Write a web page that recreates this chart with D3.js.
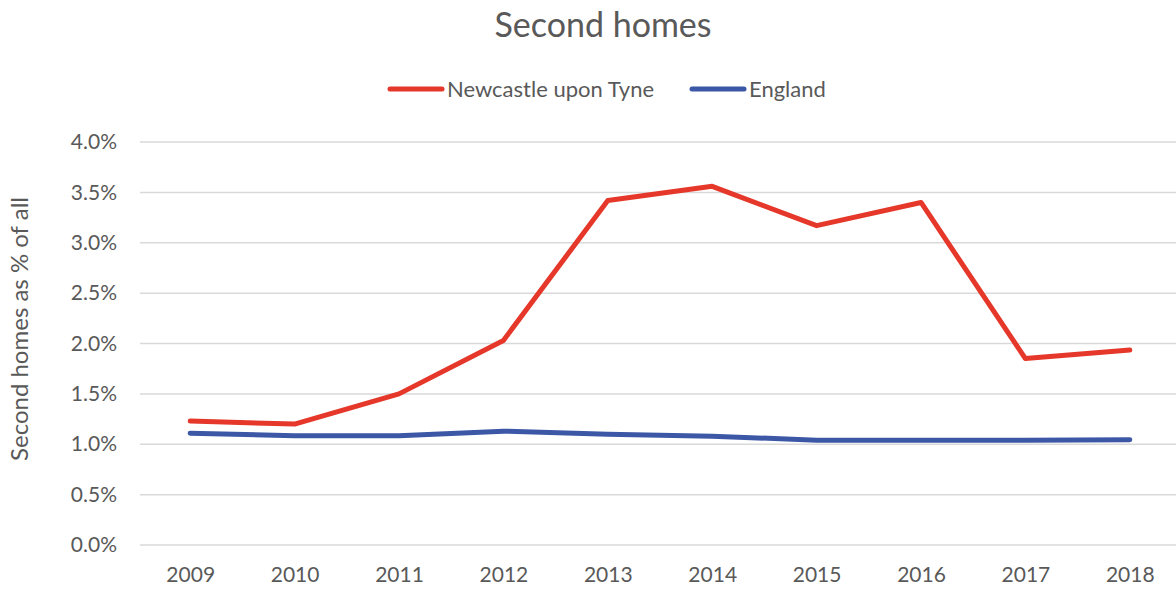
<!DOCTYPE html>
<html>
<head>
<meta charset="utf-8">
<script src="https://cdn.jsdelivr.net/npm/d3@7"></script>
<style>
  body { margin: 0; background: #fff; }
  text { font-family: Lato, "Open Sans", sans-serif; fill: #595959; }
</style>
</head>
<body>
<div id="chart"></div>
<script>
var years = ["2009", "2010", "2011", "2012", "2013", "2014", "2015", "2016", "2017", "2018"];
var newcastle = [1.23, 1.20, 1.50, 2.03, 3.42, 3.56, 3.17, 3.40, 1.85, 1.935];
var england = [1.11, 1.085, 1.085, 1.13, 1.10, 1.08, 1.04, 1.04, 1.04, 1.045];
var yTicks = [0, 0.5, 1, 1.5, 2, 2.5, 3, 3.5, 4];

var seriesNames = ["Newcastle upon Tyne", "England"];
var seriesColors = ["#E5382A", "#3B57A6"];

var svgWidth = 1176;
var svgHeight = 590;

var svg = d3.select("#chart")
  .append("svg")
  .attr("width", svgWidth)
  .attr("height", svgHeight);

// scales
var x = d3.scalePoint()
  .domain(years)
  .range([138, 1182])
  .padding(0.5);

var y = d3.scaleLinear()
  .domain([0, 4])
  .range([545, 142]);

// gridlines
svg.append("g")
  .selectAll("line")
  .data(yTicks)
  .enter()
  .append("line")
  .attr("x1", 140)
  .attr("x2", 1176)
  .attr("y1", d => y(d))
  .attr("y2", d => y(d))
  .attr("stroke", "#D9D9D9")
  .attr("stroke-width", 1.5);

// y axis labels
var leftAxis = d3.axisLeft(y)
  .tickValues(yTicks)
  .tickFormat(d => d.toFixed(1) + "%")
  .tickSize(0)
  .tickPadding(0);

var yAxis = svg.append("g")
  .attr("transform", "translate(117,0)")
  .call(leftAxis);
yAxis.select(".domain").remove();
yAxis.selectAll("text")
  .style("font-size", "21px")
  .style("font-family", "Lato, sans-serif")
  .attr("fill", "#595959");

// x axis labels
var bottomAxis = d3.axisBottom(x).tickSize(0).tickPadding(0);
var xAxis = svg.append("g")
  .attr("transform", "translate(0,567)")
  .call(bottomAxis);
xAxis.select(".domain").remove();
xAxis.selectAll("text")
  .style("font-size", "21px")
  .style("font-family", "Lato, sans-serif")
  .attr("fill", "#595959");

// lines
var line = d3.line()
  .x((d, i) => x(years[i]))
  .y(d => y(d));

[newcastle, england].forEach(function(vals, i) {
  svg.append("path")
    .datum(vals)
    .attr("d", line)
    .attr("fill", "none")
    .attr("stroke", seriesColors[i])
    .attr("stroke-width", 5)
    .attr("stroke-linecap", "round")
    .attr("stroke-linejoin", "round");
});

// title
svg.append("text")
  .attr("x", 603)
  .attr("y", 37)
  .attr("text-anchor", "middle")
  .style("font-size", "34px")
  .text("Second homes");

// y axis title
svg.append("text")
  .attr("transform", "translate(28,329) rotate(-90)")
  .attr("text-anchor", "middle")
  .style("font-size", "24px")
  .text("Second homes as % of all");

// legend
var legendX = [388, 690];
seriesNames.forEach(function(name, i) {
  var g = svg.append("g").attr("transform", `translate(${legendX[i]},89)`);
  g.append("line")
    .attr("x1", 2).attr("x2", 54)
    .attr("y1", 0).attr("y2", 0)
    .attr("stroke", seriesColors[i])
    .attr("stroke-width", 5)
    .attr("stroke-linecap", "round");
  g.append("text")
    .attr("x", 59)
    .attr("y", 8)
    .style("font-size", "22px")
    .text(name);
});
</script>
</body>
</html>
